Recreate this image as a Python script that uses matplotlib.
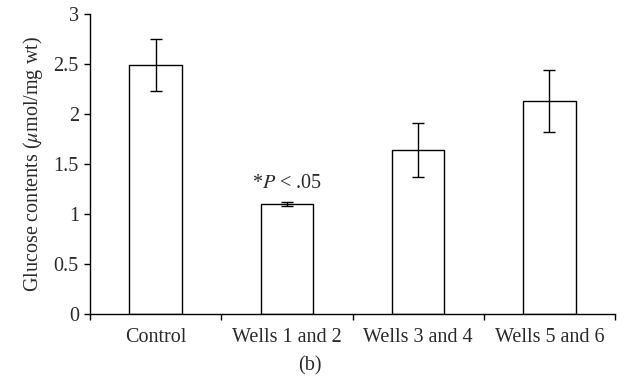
import numpy as np
import matplotlib
matplotlib.use("Agg")
import matplotlib.pyplot as plt

groups = ["Control", "Wells 1 and 2", "Wells 3 and 4", "Wells 5 and 6"]
glucose = [2.49, 1.10, 1.64, 2.13]
errors = [0.26, 0.02, 0.27, 0.31]
yticks = [0, 0.5, 1, 1.5, 2, 2.5, 3]
ytick_labels = ["0", "0.5", "1", "1.5", "2", "2.5", "3"]

plt.rcParams['font.family'] = ['Liberation Serif', 'DejaVu Serif']
plt.rcParams['mathtext.fontset'] = 'stix'

fs = 14.5
txt_color = '#2a2a2a'

fig = plt.figure(figsize=(6.27, 3.85), dpi=100)
ax = fig.add_axes([0.1435, 0.1844, 0.8375, 0.7792])

x = np.arange(len(groups))
ax.bar(x, glucose, width=0.4, color="white", edgecolor="black", linewidth=1.0,
       yerr=errors, capsize=4.5, error_kw=dict(ecolor="black", elinewidth=1.0, capthick=1.0))

ax.set_xlim(-0.5, 3.5)
ax.set_ylim(0, 3)
ax.set_yticks(yticks)
ax.set_yticklabels(ytick_labels)
ax.set_xticks(x)
ax.set_xticklabels(groups)
ax.set_xticks(np.arange(-0.5, 4, 1), minor=True)
ax.tick_params(axis='x', which='major', length=0, pad=10, labelsize=fs, labelcolor=txt_color)
ax.tick_params(axis='x', which='minor', length=4, direction='out', width=1, color='black')
ax.tick_params(axis='y', length=4, direction='out', width=1, labelsize=fs, pad=4,
               labelcolor=txt_color, color='black')

for s in ['top', 'right']:
    ax.spines[s].set_visible(False)
for s in ['left', 'bottom']:
    ax.spines[s].set_linewidth(1.0)

ax.set_ylabel(r"Glucose contents ($\mathit{\mu}$mol/mg wt)", fontsize=fs, color=txt_color, labelpad=6)

ax.text(1, 1.31, r"*$\mathit{P}$ < .05", ha='center', va='center', fontsize=fs, color=txt_color)

fig.text(0.495, 0.05, "(b)", ha='center', va='center', fontsize=fs, color=txt_color)

fig.savefig("out.png", dpi=100)
